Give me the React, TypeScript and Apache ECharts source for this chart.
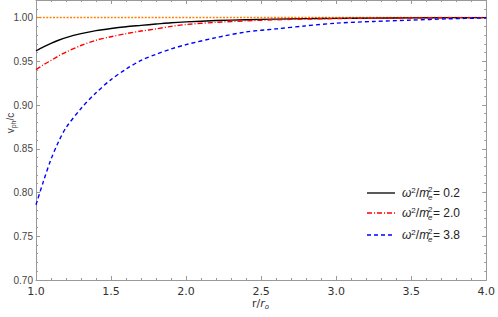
import React, { useEffect, useRef } from "react";
import * as echarts from "echarts";

const rValues = [1.0, 1.05, 1.1, 1.15, 1.2, 1.3, 1.4, 1.5, 1.6, 1.7, 1.8, 1.9, 2.0, 2.2, 2.4, 2.6, 2.8, 3.0, 3.25, 3.5, 3.75, 4.0];
const vph02 = [0.962, 0.9665, 0.9705, 0.974, 0.977, 0.9815, 0.985, 0.9875, 0.9895, 0.991, 0.9925, 0.994, 0.995, 0.9965, 0.9975, 0.9982, 0.9987, 0.999, 0.9993, 0.9996, 0.9998, 0.9999];
const vph20 = [0.9405, 0.946, 0.951, 0.956, 0.9605, 0.968, 0.974, 0.978, 0.9815, 0.9845, 0.987, 0.9898, 0.992, 0.9945, 0.9962, 0.9974, 0.9982, 0.9988, 0.9992, 0.9995, 0.9998, 0.9999];
const vph38 = [0.786, 0.813, 0.838, 0.858, 0.874, 0.896, 0.914, 0.929, 0.941, 0.951, 0.958, 0.964, 0.969, 0.977, 0.9835, 0.987, 0.9905, 0.9935, 0.9955, 0.997, 0.9985, 0.9995];
const limitX = [1.0, 4.0];
const limitY = [1.0, 1.0];
const legendValues = ["0.2", "2.0", "3.8"];
const seriesColors = ["#000000", "#ff0000", "#0000ff"];
const seriesDash: any[] = ["solid", [5, 2, 1, 2], [4, 3]];

export default function App() {
  const ref = useRef<HTMLDivElement>(null);
  useEffect(() => {
    if (!ref.current) return;
    const chart = echarts.init(ref.current, undefined, { renderer: "svg" });
    const pair = (ys: number[]) => rValues.map((r, i) => [r, ys[i]]);
    const curves = [vph02, vph20, vph38];
    const axisCommon = {
      axisLine: { show: true, lineStyle: { color: "#999", width: 1 } },
      axisTick: { show: true, inside: true, length: 4, lineStyle: { color: "#999" } },
      minorTick: { show: true, splitNumber: 5, length: 2, lineStyle: { color: "#999" } },
      splitLine: { show: false },
    };
    const legendRows = [193, 213, 235];
    const legendGraphics: any[] = [];
    legendValues.forEach((v, i) => {
      const y = legendRows[i];
      legendGraphics.push({
        type: "line",
        shape: { x1: 367, y1: y, x2: 395, y2: y },
        style: {
          stroke: seriesColors[i],
          lineWidth: 1.3,
          lineDash: seriesDash[i] === "solid" ? null : seriesDash[i],
        },
      });
      legendGraphics.push({
        type: "text",
        x: 402,
        y: y,
        style: {
          text: "{i|ω}{s|2}{n|/}{i|m}",
          verticalAlign: "middle",
          rich: {
            i: { fontStyle: "italic", fontSize: 12, fontFamily: "Liberation Sans", fill: "#222" },
            n: { fontSize: 12, fontFamily: "Liberation Sans", fill: "#222" },
            s: { fontSize: 8, fontFamily: "Liberation Sans", fill: "#222", verticalAlign: "top", lineHeight: 14 },
          },
          fill: "#222",
        },
      });
      legendGraphics.push({
        type: "text",
        x: 428,
        y: y - 4,
        style: { text: "2", fontSize: 8, fontFamily: "Liberation Sans", fill: "#222", verticalAlign: "middle" },
      });
      legendGraphics.push({
        type: "text",
        x: 428,
        y: y + 4,
        style: { text: "e", fontSize: 8, fontStyle: "italic", fontFamily: "Liberation Sans", fill: "#222", verticalAlign: "middle" },
      });
      legendGraphics.push({
        type: "text",
        x: 433,
        y: y,
        style: { text: "= " + v, fontSize: 12, fontFamily: "Liberation Sans", fill: "#222", verticalAlign: "middle" },
      });
    });

    chart.setOption({
      animation: false,
      grid: { left: 36, right: 8, top: 0, bottom: 37, containLabel: false },
      xAxis: [
        {
          type: "value",
          min: 1,
          max: 4,
          interval: 0.5,
          position: "bottom",
          ...axisCommon,
          axisLabel: {
            margin: 6,
            fontSize: 11,
            fontFamily: "DejaVu Sans",
            color: "#333",
            formatter: (v: number) => v.toFixed(1),
          },
        },
        {
          type: "value",
          min: 1,
          max: 4,
          interval: 0.5,
          position: "top",
          ...axisCommon,
          axisLabel: { show: false },
        },
      ],
      yAxis: [
        {
          type: "value",
          min: 0.7,
          max: 1.02,
          interval: 0.05,
          position: "left",
          ...axisCommon,
          axisLabel: {
            margin: 3,
            fontSize: 10,
            fontFamily: "Liberation Sans",
            color: "#444",
            showMaxLabel: false,
            formatter: (v: number) => (v > 1.001 ? "" : v.toFixed(2)),
          },
        },
        {
          type: "value",
          min: 0.7,
          max: 1.02,
          interval: 0.05,
          position: "right",
          ...axisCommon,
          axisLabel: { show: false },
        },
      ],
      series: [
        {
          type: "line",
          name: "limit",
          data: limitX.map((x, i) => [x, limitY[i]]),
          showSymbol: false,
          symbol: "none",
          color: "#ff8000",
          lineStyle: { color: "#ff8000", width: 1.3, type: [2, 1.4], opacity: 1 },
          z: 1,
        },
        ...curves.map((ys, i) => ({
          type: "line",
          name: "w" + legendValues[i],
          data: pair(ys),
          smooth: 0.3,
          showSymbol: false,
          symbol: "none",
          lineStyle: { color: seriesColors[i], width: 1.4, type: seriesDash[i] },
          z: 2 + i,
        })),
      ],
      graphic: [
        {
          type: "text",
          x: 10,
          y: 123,
          rotation: Math.PI / 2,
          style: {
            text: "{n|v}{sub|ph}{n|/c}",
            align: "center",
            verticalAlign: "middle",
            rich: {
              n: { fontSize: 10, fontFamily: "Liberation Sans", fill: "#444" },
              sub: { fontSize: 7, fontFamily: "Liberation Sans", fill: "#444", verticalAlign: "bottom", lineHeight: 13 },
            },
          },
        },
        {
          type: "text",
          x: 252,
          y: 303,
          style: {
            text: "{n|r/}{i|r}{sub|o}",
            verticalAlign: "middle",
            rich: {
              n: { fontSize: 11, fontFamily: "DejaVu Sans", fill: "#333" },
              i: { fontSize: 11, fontStyle: "italic", fontFamily: "DejaVu Sans", fill: "#333" },
              sub: { fontSize: 7, fontStyle: "italic", fontFamily: "DejaVu Sans", fill: "#333", verticalAlign: "bottom", lineHeight: 15 },
            },
          },
        },
        ...legendGraphics,
      ],
    });
    return () => chart.dispose();
  }, []);
  return <div ref={ref} style={{ position: "absolute", left: 0, top: 0, width: 498, height: 317 }} />;
}
